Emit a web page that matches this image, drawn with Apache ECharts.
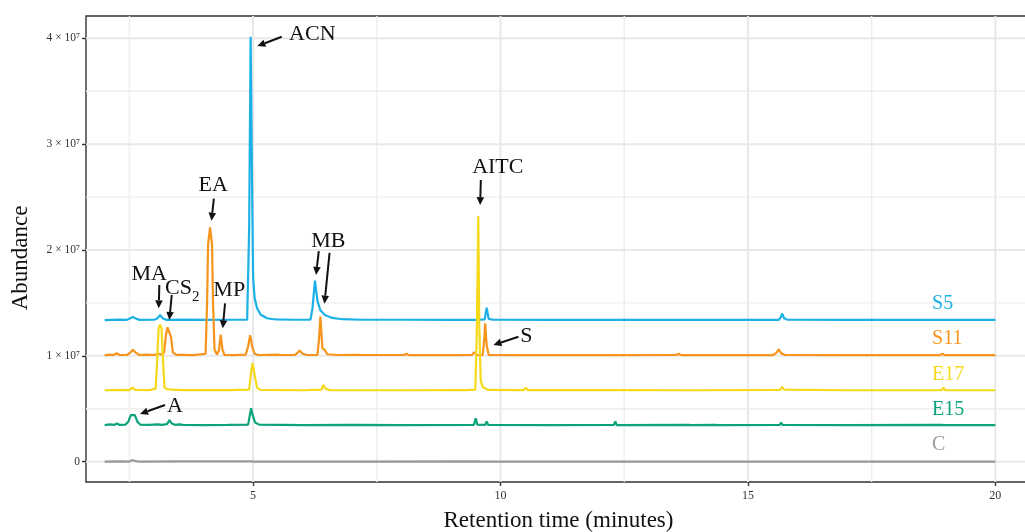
<!DOCTYPE html>
<html>
<head>
<meta charset="utf-8">
<script src="https://cdn.jsdelivr.net/npm/echarts@6/dist/echarts.min.js"></script>
<style>
  html, body { margin: 0; padding: 0; background: #fff; }
  #chart { width: 1025px; height: 532px; }
</style>
</head>
<body>
<div id="chart"></div>
<script>
// abundance values are in units of 10^7, retention time in minutes
const sampleNames = ['S5', 'S11', 'E17', 'E15', 'C']
const sampleColors = ['#1bb1e7', '#f7941d', '#f5d91a', '#0ba37a', '#999999']

const s5 = [[2.0,1.338],[2.3,1.342],[2.45,1.340],[2.52,1.355],[2.57,1.368],[2.63,1.352],[2.7,1.340],[3.0,1.341],
  [3.06,1.352],[3.12,1.386],[3.18,1.352],[3.25,1.340],[3.6,1.343],[4.0,1.339],[4.5,1.341],[4.88,1.342],[4.92,2.2],
  [4.95,4.015],[4.98,2.6],[5.0,1.75],[5.03,1.55],[5.08,1.45],[5.15,1.39],[5.28,1.355],[5.38,1.348],[5.42,1.358],
  [5.47,1.345],[5.8,1.341],[6.16,1.343],[6.2,1.45],[6.25,1.71],[6.3,1.52],[6.36,1.43],[6.45,1.385],[6.6,1.358],
  [6.8,1.346],[7.2,1.341],[8.0,1.341],[9.0,1.340],[9.5,1.340],[9.68,1.345],[9.72,1.455],[9.76,1.35],[9.85,1.341],
  [11,1.340],[12,1.341],[13,1.339],[14,1.340],[15,1.341],[15.62,1.340],[15.66,1.36],[15.69,1.40],[15.73,1.355],
  [15.8,1.341],[17,1.340],[18,1.341],[19,1.339],[20,1.340]]

const s11 = [[2.0,1.005],[2.1,1.012],[2.18,1.008],[2.24,1.025],[2.3,1.008],[2.45,1.008],[2.52,1.03],[2.57,1.058],
  [2.63,1.03],[2.7,1.008],[2.85,1.012],[3.0,1.008],[3.08,1.02],[3.13,1.012],[3.2,1.03],[3.24,1.2],[3.27,1.27],
  [3.29,1.282],[3.31,1.27],[3.34,1.18],[3.38,1.03],[3.45,1.01],[3.6,1.01],[3.8,1.006],[4.04,1.02],[4.07,1.5],
  [4.09,2.05],[4.13,2.215],[4.17,2.05],[4.19,1.5],[4.22,1.06],[4.27,1.012],[4.31,1.05],[4.345,1.2],[4.38,1.06],
  [4.42,1.01],[4.6,1.007],[4.85,1.012],[4.9,1.09],[4.94,1.195],[4.98,1.09],[5.03,1.02],[5.1,1.008],[5.5,1.012],
  [5.55,1.008],[5.85,1.01],[5.9,1.03],[5.94,1.05],[6.0,1.02],[6.1,1.008],[6.3,1.01],[6.33,1.15],[6.36,1.37],
  [6.4,1.07],[6.45,1.055],[6.5,1.015],[6.7,1.008],[7.12,1.01],[7.16,1.025],[7.2,1.008],[8.05,1.008],[8.1,1.02],
  [8.15,1.007],[9.0,1.006],[9.42,1.008],[9.47,1.035],[9.52,1.008],[9.64,1.01],[9.67,1.15],[9.69,1.307],[9.72,1.1],
  [9.76,1.01],[10.5,1.007],[12,1.006],[13.55,1.008],[13.6,1.02],[13.65,1.007],[15.5,1.006],[15.58,1.03],
  [15.62,1.062],[15.67,1.025],[15.75,1.008],[17,1.007],[18.88,1.007],[18.93,1.02],[18.98,1.007],[20,1.006]]

const e17 = [[2.0,0.675],[2.3,0.678],[2.5,0.676],[2.56,0.70],[2.62,0.678],[2.9,0.676],[3.03,0.69],[3.06,0.95],
  [3.09,1.26],[3.12,1.295],[3.15,1.26],[3.18,0.95],[3.21,0.70],[3.26,0.685],[3.3,0.70],[3.36,0.68],[3.6,0.676],
  [4.5,0.677],[4.92,0.68],[4.96,0.85],[4.99,0.93],[5.03,0.82],[5.08,0.70],[5.15,0.678],[6.0,0.675],[6.38,0.68],
  [6.42,0.725],[6.46,0.69],[6.55,0.676],[8.0,0.675],[9.25,0.677],[9.28,0.69],[9.31,0.676],[9.49,0.68],[9.52,1.2],
  [9.55,2.32],[9.57,1.3],[9.6,0.76],[9.65,0.70],[9.75,0.678],[10.47,0.677],[10.51,0.70],[10.55,0.677],
  [12.05,0.676],[12.08,0.692],[12.11,0.676],[14,0.675],[15.65,0.678],[15.69,0.708],[15.73,0.68],[17,0.675],
  [18.92,0.677],[18.95,0.70],[18.98,0.677],[20,0.675]]

const e15 = [[2.0,0.345],[2.1,0.352],[2.2,0.348],[2.25,0.36],[2.3,0.347],[2.42,0.35],[2.48,0.38],[2.53,0.44],
  [2.57,0.452],[2.61,0.44],[2.66,0.38],[2.72,0.35],[2.9,0.347],[3.08,0.352],[3.12,0.36],[3.16,0.348],[3.26,0.355],
  [3.31,0.392],[3.36,0.36],[3.42,0.348],[3.52,0.352],[3.55,0.365],[3.58,0.348],[4.0,0.345],[4.5,0.347],[4.9,0.35],
  [4.93,0.43],[4.96,0.505],[4.99,0.44],[5.04,0.37],[5.12,0.35],[6.0,0.346],[7.0,0.347],[8.0,0.345],[9.46,0.348],
  [9.5,0.41],[9.53,0.35],[9.69,0.348],[9.72,0.38],[9.75,0.347],[11,0.345],[12.29,0.347],[12.32,0.38],[12.35,0.346],
  [13.8,0.347],[13.83,0.36],[13.86,0.346],[14.34,0.347],[14.37,0.362],[14.4,0.346],[15.64,0.347],[15.67,0.368],
  [15.7,0.347],[17,0.345],[18.9,0.347],[18.94,0.355],[18.97,0.346],[20,0.345]]

const blank = [[2.0,0.0],[2.3,0.003],[2.5,0.001],[2.55,0.015],[2.58,0.02],[2.63,0.006],[2.7,0.001],[3.5,0.002],
  [4.95,0.002],[4.98,0.01],[5.02,0.001],[7.0,0.0],[9.55,0.002],[9.58,0.008],[9.62,0.0],[12,0.001],[15,0.0],
  [19.2,0.001],[19.24,0.008],[19.28,0.0],[20,0.0]]

const traces = [s5, s11, e17, e15, blank]

// axis ticks and grid lines
const xTicks = [5, 10, 15, 20]
const xMinor = [2.5, 7.5, 12.5, 17.5]
const yTicks = [0, 1, 2, 3, 4]
const yMinor = [0.5, 1.5, 2.5, 3.5]

// compound labels and arrows (x, y in data units)
const noteTexts = ['ACN', 'EA', 'MA', '{n|CS}{s|2}', 'MP', 'MB', 'AITC', 'S', 'A']
const noteX = [6.196, 4.192, 2.901, 3.568, 4.518, 6.521, 9.945, 10.522, 3.422]
const noteY = [4.043, 2.613, 1.771, 1.640, 1.622, 2.085, 2.779, 1.181, 0.520]
const arrows = [
  [5.579, 4.015, 5.086, 3.927],
  [4.207, 2.486, 4.158, 2.277],
  [3.105, 1.669, 3.093, 1.449],
  [3.356, 1.575, 3.307, 1.339],
  [4.433, 1.496, 4.386, 1.260],
  [6.327, 1.989, 6.272, 1.765],
  [6.545, 1.973, 6.442, 1.493],
  [9.602, 2.661, 9.588, 2.425],
  [10.362, 1.181, 9.857, 1.103],
  [3.220, 0.536, 2.715, 0.451]
]
const sampleLabelX = 18.72
const sampleLabelY = [1.496, 1.166, 0.819, 0.488, 0.158]

const serif = "'Liberation Serif', 'DejaVu Serif', serif"
const xMin = 1.623, xMax = 20.72
const yMin = -0.192, yMax = 4.211

const chart = echarts.init(document.getElementById('chart'))

function gridLines(values, vertical, width, color) {
  return {
    type: 'custom',
    silent: true,
    z: 1,
    data: values.map(v => vertical ? [v, 0] : [xMin, v]),
    renderItem(params, api) {
      const cs = params.coordSys
      const p = api.coord([api.value(0), api.value(1)])
      const shape = vertical
        ? { x1: p[0], y1: cs.y, x2: p[0], y2: cs.y + cs.height }
        : { x1: cs.x, y1: p[1], x2: cs.x + cs.width, y2: p[1] }
      return { type: 'line', shape: shape, style: { stroke: color, lineWidth: width } }
    }
  }
}

const traceSeries = traces.map((d, i) => ({
  name: sampleNames[i],
  type: 'line',
  data: d,
  showSymbol: false,
  symbol: 'none',
  z: 2,
  lineStyle: { color: sampleColors[i], width: 2.2 },
  itemStyle: { color: sampleColors[i] },
  silent: true
}))

const arrowSeries = {
  type: 'custom',
  silent: true,
  z: 4,
  data: arrows,
  encode: { x: [0, 2], y: [1, 3] },
  renderItem(params, api) {
    const a = api.coord([api.value(0), api.value(1)])
    const b = api.coord([api.value(2), api.value(3)])
    const ang = Math.atan2(b[1] - a[1], b[0] - a[0])
    const len = 8, half = 3.8
    const bx = b[0] - len * Math.cos(ang), by = b[1] - len * Math.sin(ang)
    const px = -Math.sin(ang) * half, py = Math.cos(ang) * half
    return {
      type: 'group',
      children: [
        { type: 'line', shape: { x1: a[0], y1: a[1], x2: bx, y2: by }, style: { stroke: '#111', lineWidth: 2 } },
        { type: 'polygon', shape: { points: [[b[0], b[1]], [bx + px, by + py], [bx - px, by - py]] }, style: { fill: '#111' } }
      ]
    }
  }
}

const noteSeries = {
  type: 'custom',
  silent: true,
  z: 5,
  data: noteX.map((x, i) => [x, noteY[i], i]),
  renderItem(params, api) {
    const p = api.coord([api.value(0), api.value(1)])
    const i = api.value(2)
    return {
      type: 'text',
      x: p[0], y: p[1],
      style: {
        text: noteTexts[i],
        fill: '#111',
        font: '22px ' + serif,
        align: 'center', verticalAlign: 'middle',
        textAlign: 'center', textVerticalAlign: 'middle',
        rich: {
          n: { fontSize: 22, fontFamily: serif, fill: '#111', color: '#111', lineHeight: 22 },
          s: { fontSize: 15, fontFamily: serif, fill: '#111', color: '#111', padding: [17, 0, 0, 0], lineHeight: 22 }
        }
      }
    }
  }
}

const sampleLabelSeries = {
  type: 'custom',
  silent: true,
  z: 5,
  data: sampleLabelY.map((y, i) => [sampleLabelX, y, i]),
  renderItem(params, api) {
    const p = api.coord([api.value(0), api.value(1)])
    const i = api.value(2)
    return {
      type: 'text',
      x: p[0], y: p[1],
      style: {
        text: sampleNames[i],
        fill: sampleColors[i],
        font: '20px ' + serif,
        align: 'left', verticalAlign: 'middle',
        textAlign: 'left', textVerticalAlign: 'middle'
      }
    }
  }
}

chart.setOption({
  animation: false,
  backgroundColor: '#fff',
  grid: {
    left: 86, top: 16, width: 945, height: 466,
    show: true, borderColor: '#333', borderWidth: 1.4, backgroundColor: 'transparent',
    containLabel: false, outerBoundsMode: 'none'
  },
  xAxis: {
    type: 'value', min: xMin, max: xMax,
    name: 'Retention time (minutes)', nameLocation: 'middle', nameGap: 27,
    nameTextStyle: { fontFamily: serif, fontSize: 23, color: '#111' },
    axisLine: { show: false, onZero: false },
    axisTick: { show: true, length: 4, customValues: xTicks, lineStyle: { color: '#333', width: 1.4 } },
    axisLabel: { customValues: xTicks, margin: 8, fontFamily: serif, fontSize: 12, color: '#333' },
    splitLine: { show: false }
  },
  yAxis: {
    type: 'value', min: yMin, max: yMax,
    axisLine: { show: false, onZero: false },
    axisTick: { show: true, length: 4, customValues: yTicks, lineStyle: { color: '#333', width: 1.4 } },
    axisLabel: {
      customValues: yTicks, margin: 6, fontFamily: serif, fontSize: 11.5, color: '#333',
      formatter: v => v === 0 ? '0' : v + ' \u00d7 10\u2077'
    },
    splitLine: { show: false }
  },
  graphic: [{
    type: 'text', x: 21, y: 258, rotation: Math.PI / 2,
    style: {
      text: 'Abundance', font: '23px ' + serif, fill: '#111',
      align: 'center', verticalAlign: 'middle', textAlign: 'center', textVerticalAlign: 'middle'
    }
  }],
  series: [
    gridLines(xMinor, true, 1.4, '#eeeeee'),
    gridLines(yMinor, false, 1.4, '#eeeeee'),
    gridLines(xTicks, true, 2, '#e8e8e8'),
    gridLines(yTicks, false, 2, '#e8e8e8')
  ].concat(traceSeries, [arrowSeries, noteSeries, sampleLabelSeries])
})
</script>
</body>
</html>
